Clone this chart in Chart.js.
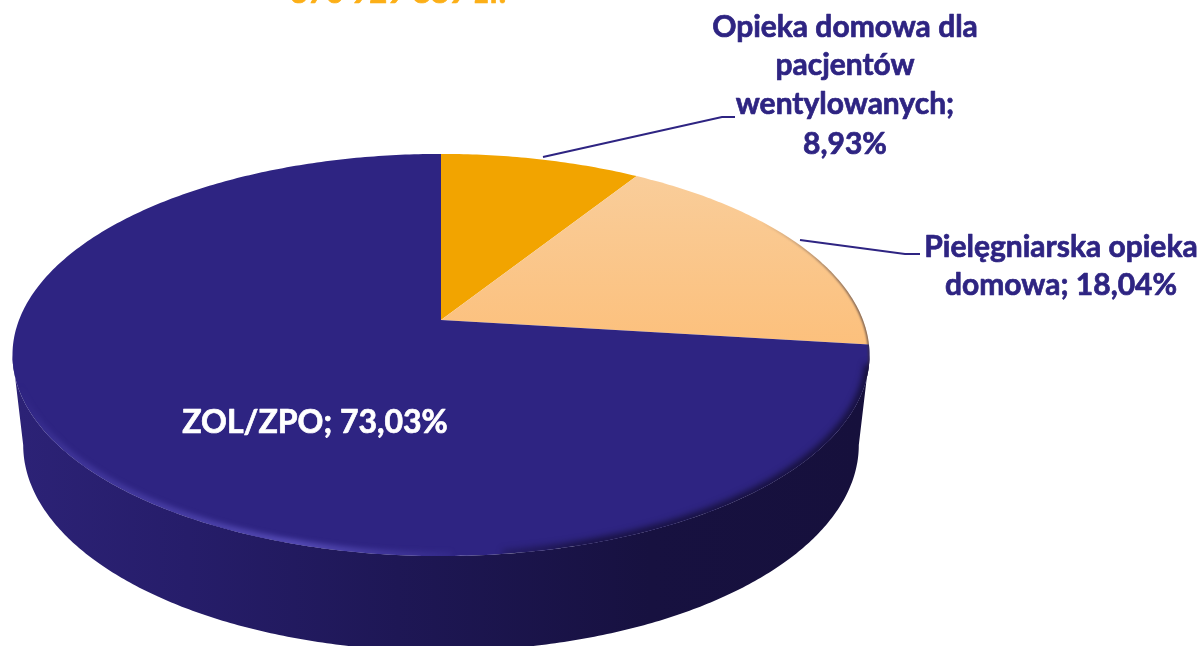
<!DOCTYPE html>
<html><head><meta charset="utf-8">
<style>html,body{margin:0;padding:0;background:#fff}canvas{display:block}</style>
<script src="https://cdn.jsdelivr.net/npm/chart.js@4"></script>
</head><body><canvas id="c" width="1202" height="646"></canvas>
<script>
const categories = ['Opieka domowa dla pacjentów wentylowanych', 'Pielęgniarska opieka domowa', 'ZOL/ZPO'];
const shares = [8.93, 18.04, 73.03];
const sliceColors = ['#F2A400', '#FBC382', '#2E2482'];
const titleText = '370 929 889 zł.';
const NAVY = '#2E2482';
const PERSP = 0.174, XSTRETCH = 2.164, DEPTH = 90;

function pct(i){ return shares[i].toFixed(2).replace('.', ',') + '%'; }

// perspective projection of the pie plane, driven by the arc element's geometry
function project(el, a){
  const u = Math.cos(a), v = -Math.sin(a), d = 1 + PERSP * v;
  return [el.x + XSTRETCH * el.outerRadius * u / d, el.y - el.outerRadius * v / d];
}
function rimPath(ctx, el, a0, a1, move){
  const n = Math.max(2, Math.ceil(Math.abs(a1 - a0) * 80));
  for (let k = 0; k <= n; k++){
    const p = project(el, a0 + (a1 - a0) * k / n);
    if (k === 0 && move) ctx.moveTo(p[0], p[1]); else ctx.lineTo(p[0], p[1]);
  }
}
function lowerProject(el, a, cy){
  const p = project(el, a);
  return [el.x + 0.975 * (p[0] - el.x), cy + 1.025 * (p[1] - cy) + DEPTH];
}

const pie3d = {
  id: 'pie3d',
  beforeDatasetDraw(chart){
    const ctx = chart.ctx, arcs = chart.getDatasetMeta(0).data, el = arcs[0];
    const cy = el.y + 35;
    ctx.save();
    // wall
    const wall = ctx.createLinearGradient(20, 0, 860, 0);
    wall.addColorStop(0, '#2C2276'); wall.addColorStop(0.2, '#261D6A');
    wall.addColorStop(0.45, '#1E1755'); wall.addColorStop(0.75, '#171140'); wall.addColorStop(1, '#16103C');
    ctx.fillStyle = wall;
    ctx.beginPath();
    const aR = 0.175, aL = Math.PI - 0.175;
    rimPath(ctx, el, aR, aL, true);
    for (let k = 0; k <= 300; k++){
      const p = lowerProject(el, aL + (aR - aL) * k / 300, cy);
      ctx.lineTo(p[0], p[1]);
    }
    ctx.closePath(); ctx.fill();
    // top face slices
    arcs.forEach((arc, i) => {
      let fill = sliceColors[i];
      if (i === 1){
        const g = ctx.createLinearGradient(0, 176, 0, 345);
        g.addColorStop(0, '#F9CD9A'); g.addColorStop(1, '#FCC07C');
        fill = g;
      }
      ctx.fillStyle = fill;
      ctx.beginPath();
      ctx.moveTo(arc.x, arc.y);
      rimPath(ctx, arc, arc.startAngle, arc.endAngle, false);
      ctx.closePath(); ctx.fill();
    });
    // bevel, clipped to the top face
    ctx.beginPath();
    rimPath(ctx, el, 0, Math.PI * 2, true);
    ctx.closePath(); ctx.clip();
    ctx.filter = 'blur(1px)';
    const thin = ctx.createLinearGradient(760, 0, 860, 0);
    thin.addColorStop(0, 'rgba(60,50,60,0)'); thin.addColorStop(1, 'rgba(60,50,60,0.8)');
    ctx.strokeStyle = thin; ctx.lineWidth = 2.5;
    ctx.beginPath(); rimPath(ctx, el, -0.75, 0.3, true); ctx.stroke();
    const shade = ctx.createLinearGradient(440, 0, 860, 0);
    shade.addColorStop(0, 'rgba(22,16,60,0)'); shade.addColorStop(0.35, 'rgba(22,16,60,0.9)'); shade.addColorStop(1, 'rgba(22,16,60,1)');
    ctx.filter = 'blur(3px)';
    ctx.strokeStyle = shade; ctx.lineWidth = 9;
    ctx.beginPath(); rimPath(ctx, el, 0.22, 1.45, true); ctx.stroke();
    const hi = ctx.createLinearGradient(20, 0, 480, 0);
    hi.addColorStop(0, 'rgba(80,70,175,0)'); hi.addColorStop(0.1, 'rgba(72,62,165,0.6)');
    hi.addColorStop(0.6, 'rgba(84,74,180,1)'); hi.addColorStop(1, 'rgba(80,70,175,0)');
    ctx.filter = 'blur(2.5px)';
    ctx.strokeStyle = hi; ctx.lineWidth = 9;
    ctx.beginPath(); rimPath(ctx, el, 1.55, Math.PI - 0.05, true); ctx.stroke();
    ctx.restore();
    return false;
  },
  afterDatasetsDraw(chart){
    const ctx = chart.ctx;
    function put(text, x, y){
      ctx.strokeText(text, x, y); ctx.fillText(text, x, y);
    }
    ctx.save();
    ctx.strokeStyle = NAVY; ctx.lineWidth = 2;
    ctx.beginPath(); ctx.moveTo(543, 157); ctx.lineTo(722, 117); ctx.lineTo(735, 117); ctx.stroke();
    ctx.beginPath(); ctx.moveTo(800, 240); ctx.lineTo(905, 254); ctx.lineTo(920, 254); ctx.stroke();
    ctx.textAlign = 'center'; ctx.textBaseline = 'alphabetic';
    ctx.lineWidth = 0.7; ctx.lineJoin = 'round';
    ctx.font = 'bold 30px Lato, "Open Sans", sans-serif';
    ctx.fillStyle = NAVY;
    [['Opieka domowa dla', 845, 37], ['pacjentów', 845, 75], ['wentylowanych;', 845, 114], [pct(0), 845, 154],
     ['Pielęgniarska opieka', 1061, 257], ['domowa; ' + pct(1), 1061, 295]]
      .forEach(t => put(t[0], t[1], t[2]));
    ctx.font = 'bold 32px Lato, "Open Sans", sans-serif';
    ctx.fillStyle = '#FFFFFF'; ctx.strokeStyle = '#FFFFFF';
    put(categories[2] + '; ' + pct(2), 315, 433);
    ctx.font = 'bold 31px Lato, "Open Sans", sans-serif';
    ctx.fillStyle = '#FCAF17'; ctx.strokeStyle = '#FCAF17';
    put(titleText, 398, 3);
    ctx.restore();
  }
};

new Chart(document.getElementById('c'), {
  type: 'pie',
  data: { labels: categories, datasets: [{ data: shares, backgroundColor: sliceColors, borderWidth: 0 }] },
  options: {
    responsive: false, animation: false,
    layout: { padding: { left: 246, right: 566, top: 125, bottom: 131 } },
    plugins: { legend: { display: false }, title: { display: false }, tooltip: { enabled: false } }
  },
  plugins: [pie3d]
});
</script></body></html>
